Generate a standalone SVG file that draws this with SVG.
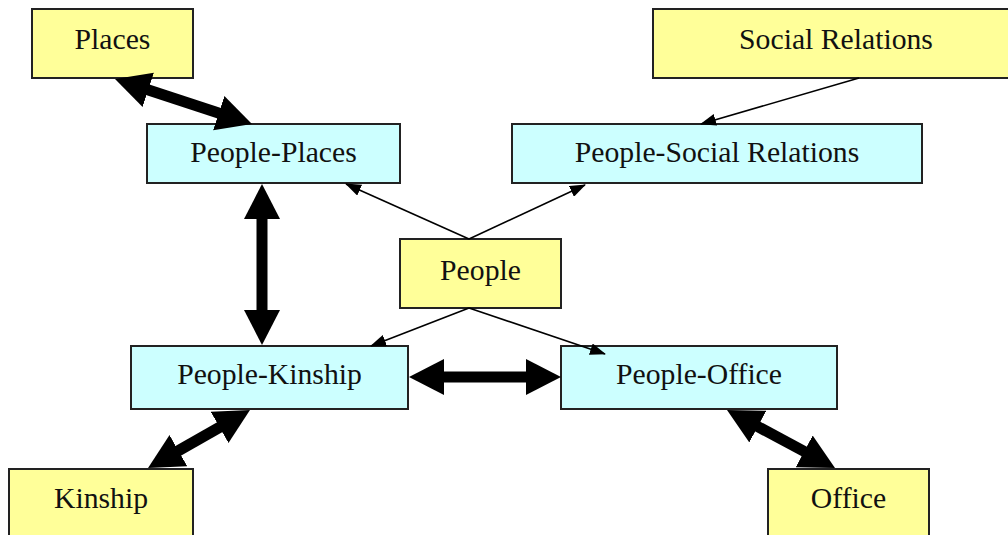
<svg xmlns="http://www.w3.org/2000/svg" width="1008" height="535" viewBox="0 0 1008 535">
<style>
.y{fill:#FFFF99;stroke:#222;stroke-width:2}
.c{fill:#CCFFFF;stroke:#222;stroke-width:2}
.thick{stroke:#000;stroke-width:11;fill:none;marker-start:url(#big);marker-end:url(#big)}
.thin{stroke:#000;stroke-width:1.6;fill:none;marker-end:url(#small)}
</style>
<defs>
<marker id="big" markerUnits="userSpaceOnUse" markerWidth="35" markerHeight="37" refX="15" refY="18.5" orient="auto-start-reverse" viewBox="0 0 35 37"><path d="M0,0.5 L35,18.5 L0,36.5 z" fill="#000"/></marker>
<marker id="small" markerUnits="userSpaceOnUse" markerWidth="16" markerHeight="12" refX="15" refY="6" orient="auto" viewBox="0 0 16 12"><path d="M0,0 L16,6 L0,12 z" fill="#000"/></marker>
</defs>
<rect width="1008" height="535" fill="#fff"/>
<g font-family="Liberation Serif" font-size="29.7" fill="#111" text-anchor="middle">
<g id="places"><rect class="y" x="32" y="9" width="161" height="69"/><text x="112.5" y="49">Places</text></g>
<g id="social-relations"><rect class="y" x="653" y="9" width="366" height="69"/><text x="836" y="49">Social Relations</text></g>
<g id="people-places"><rect class="c" x="147" y="124" width="253" height="59"/><text x="273.5" y="162">People-Places</text></g>
<g id="people-social-relations"><rect class="c" x="512" y="124" width="410" height="59"/><text x="717" y="162">People-Social Relations</text></g>
<g id="people"><rect class="y" x="400" y="239" width="161" height="69"/><text x="480.5" y="280">People</text></g>
<g id="people-kinship"><rect class="c" x="131" y="346" width="277" height="63"/><text x="269.5" y="384">People-Kinship</text></g>
<g id="people-office"><rect class="c" x="561" y="346" width="276" height="63"/><text x="699" y="384">People-Office</text></g>
<g id="kinship"><rect class="y" x="9" y="469" width="184" height="80"/><text x="101" y="508">Kinship</text></g>
<g id="office"><rect class="y" x="768" y="469" width="161" height="80"/><text x="848.5" y="508">Office</text></g>
</g>
<g id="connectors">
<line class="thick" x1="134" y1="85.2" x2="233" y2="117.8"/>
<line class="thin" x1="859" y1="78" x2="701" y2="124"/>
<line class="thin" x1="469" y1="239" x2="346" y2="184"/>
<line class="thin" x1="469" y1="239" x2="585" y2="185"/>
<line class="thick" x1="262" y1="204" x2="262" y2="325"/>
<line class="thin" x1="469" y1="308" x2="371" y2="346"/>
<line class="thin" x1="469" y1="308" x2="605" y2="354"/>
<line class="thick" x1="429" y1="377" x2="541" y2="377"/>
<line class="thick" x1="232.6" y1="419.9" x2="165.4" y2="458.1"/>
<line class="thick" x1="744.6" y1="419.5" x2="817.4" y2="458.5"/>
</g>
</svg>
